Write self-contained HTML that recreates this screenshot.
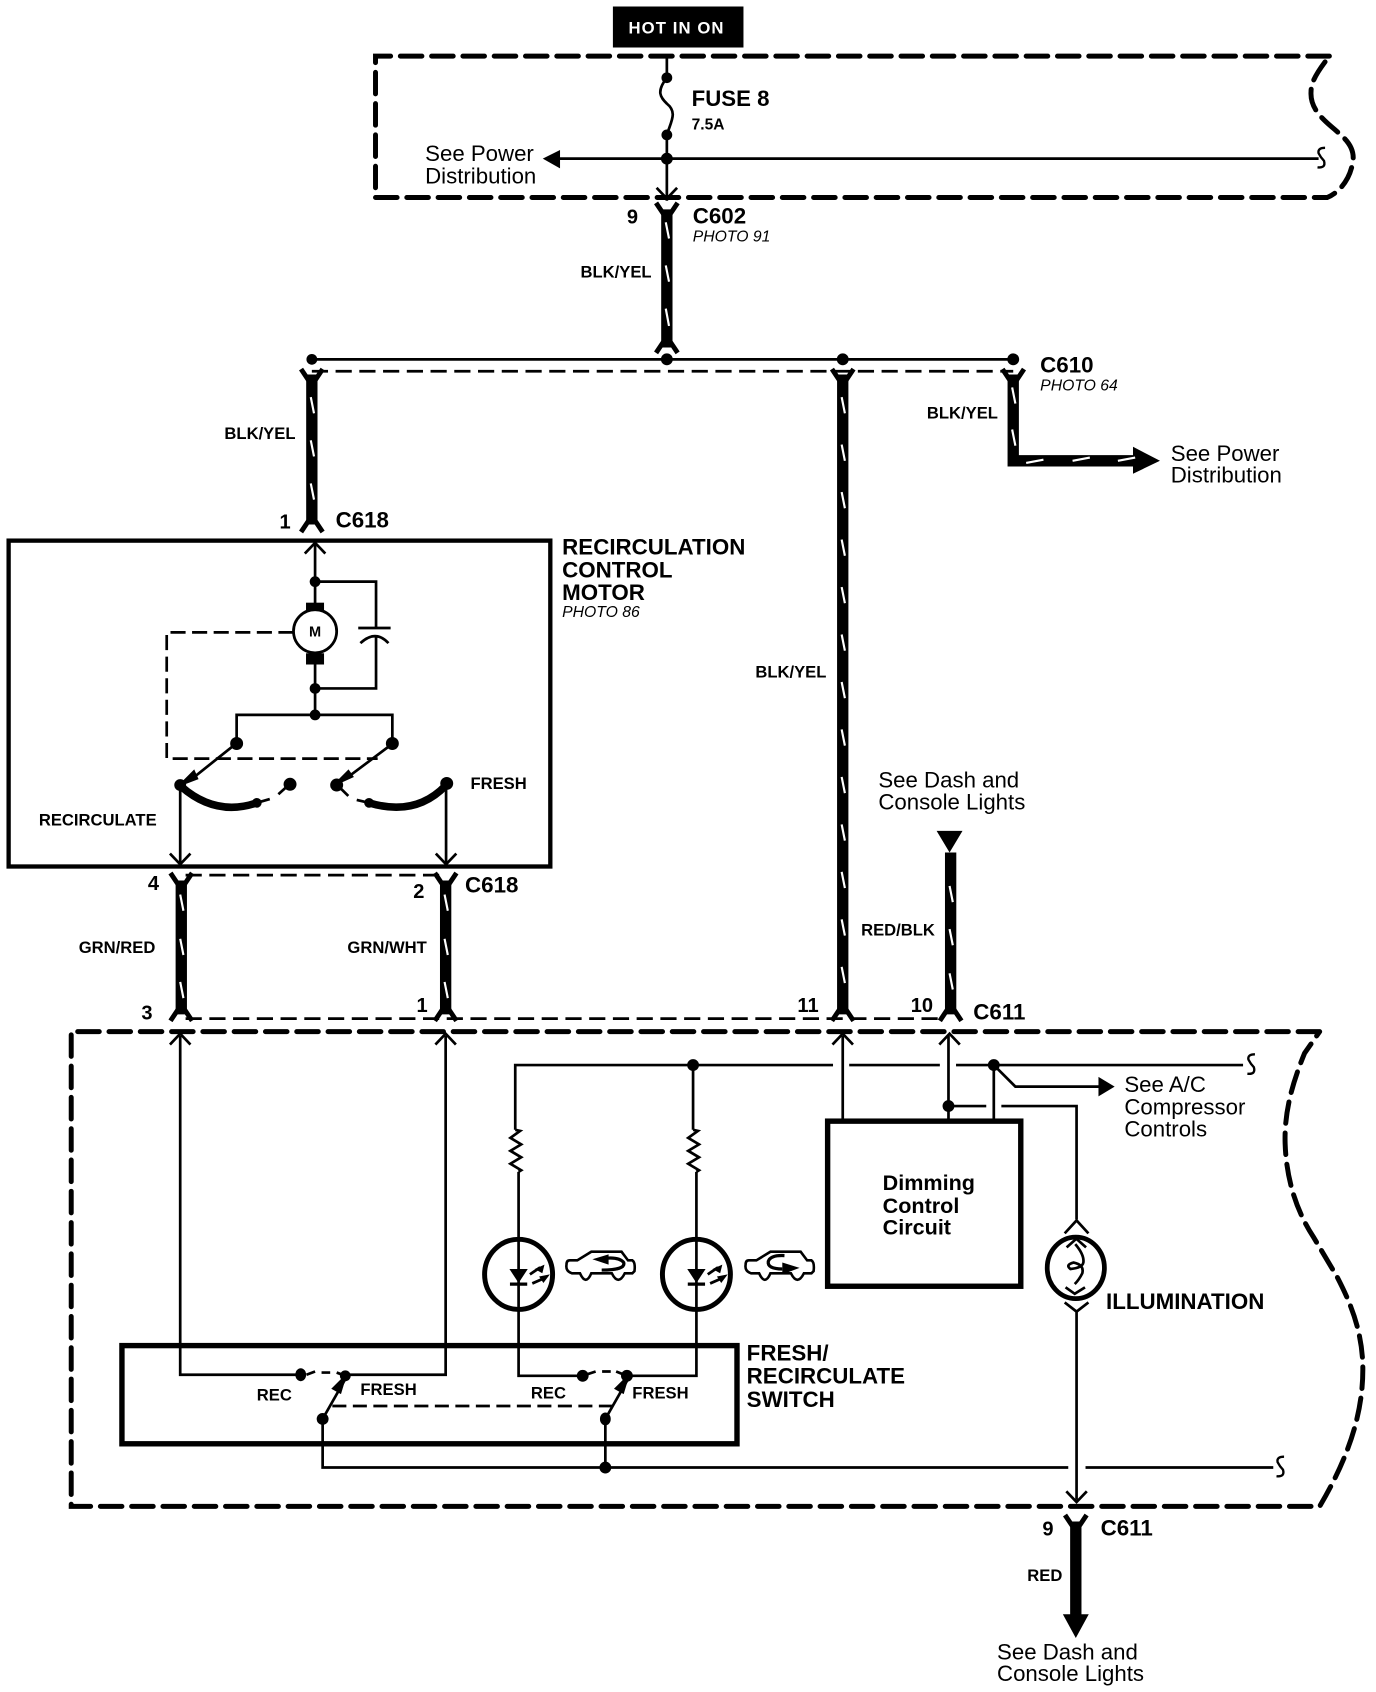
<!DOCTYPE html>
<html><head><meta charset="utf-8"><style>
html,body{margin:0;padding:0;background:#fff}
svg{display:block}
text{font-family:"Liberation Sans",sans-serif;fill:#000}
.b{font-weight:bold}
.h{font-weight:bold;font-size:20.7px}
.c{font-weight:bold;font-size:20.6px}
.l{font-weight:bold;font-size:15.4px}
.n{font-weight:bold;font-size:18.6px}
.r{font-size:20.6px}
.i{font-style:italic;font-size:14.6px}
.t{fill:none;stroke:#000;stroke-width:2.5}
.w{fill:none;stroke:#000;stroke-width:10.5}
.m{fill:none;stroke:#fff;stroke-width:2}
.d{fill:none;stroke:#000;stroke-width:4.6;stroke-dasharray:20 9;stroke-linecap:round}
.d2{fill:none;stroke:#000;stroke-width:2.5;stroke-dasharray:15 7}
</style></head><body>
<svg xmlns="http://www.w3.org/2000/svg" width="1376" height="1692" viewBox="0 0 1275.2 1568">
<rect width="1276" height="1568" fill="#fff"/>
<defs>
<path id="up" d="M-9.5,10 L0,0 L9.5,10" fill="none" stroke="#000" stroke-width="2.5"/>
<path id="dn" d="M-9.5,-10 L0,0 L9.5,-10" fill="none" stroke="#000" stroke-width="2.5"/>
<path id="ft" d="M-10,-5 L-2,7 M10,-5 L2,7" fill="none" stroke="#000" stroke-width="4.5"/>
<path id="fb" d="M-10,5 L-2,-7 M10,5 L2,-7" fill="none" stroke="#000" stroke-width="4.5"/>
<path id="sb" d="M3,-10 Q-4,-10 -3,-5 Q-1,-1 2,2 Q4,9 -4,8" fill="none" stroke="#000" stroke-width="2.2"/>
<g id="led">
<path d="M-8.5,-5 H8.5 L0,8 Z" fill="#000"/>
<path d="M-8,9 H8" stroke="#000" stroke-width="3"/>
<path d="M10.5,0 L20,-6.5 M12.7,8.4 L25,3" stroke="#000" stroke-width="2.6"/>
<path d="M24,-9 L22,-1 L15,-5 Z M29,0 L23,8 L19,2 Z" fill="#000"/>
</g>
</defs>

<!-- HOT -->
<rect x="568" y="6" width="121" height="38" fill="#000"/>
<text x="627" y="31" text-anchor="middle" class="b" style="font-size:15.5px;fill:#fff;letter-spacing:1px">HOT IN ON</text>

<!-- top fuse box -->
<path class="d" d="M1232,52 H348 V183 H1230 C1242,178 1252,165 1254,148 C1255,135 1246,128 1237,120 C1225,110 1214,100 1215,85 C1215,75 1222,65 1232,52"/>
<path class="t" d="M618,52 V72 M618,72 C608,85 612,90 618,96 C628,104 622,112 618,125 V186"/>
<circle cx="618" cy="72" r="5"/><circle cx="618" cy="125" r="5"/><circle cx="618" cy="147" r="5.5"/>
<path class="t" d="M515,147 H1222"/>
<path d="M503,147 L519,139 V156 Z"/>
<use href="#sb" x="1225" y="147"/>
<use href="#dn" x="618" y="184"/>
<text x="641" y="98" class="c">FUSE 8</text>
<text x="641" y="120" class="b" style="font-size:14.4px">7.5A</text>
<text x="394" y="149" class="r">See Power</text>
<text x="394" y="170" class="r">Distribution</text>

<!-- C602 -->
<path class="w" d="M618,194 V322"/>
<use href="#ft" x="618" y="193"/><use href="#fb" x="618" y="322"/>
<path class="m" d="M617,206 l3,15 M617,246 l3,15 M617,286 l3,16"/>
<text x="581" y="207" class="n">9</text>
<text x="642" y="207" class="h">C602</text>
<text x="642" y="224" class="i">PHOTO 91</text>
<text x="538" y="257" class="l">BLK/YEL</text>

<!-- bus -->
<path class="t" d="M289,333 H939"/>
<path class="d2" d="M289,344 H939"/>
<circle cx="289" cy="333" r="5"/><circle cx="618" cy="333" r="5.5"/><circle cx="781" cy="333" r="5.5"/><circle cx="939" cy="333" r="5.5"/>

<!-- drops -->
<path class="w" d="M289,347 V486"/>
<use href="#ft" x="289" y="347"/><use href="#fb" x="289" y="488"/>
<path class="m" d="M288,368 l3,15 M288,408 l3,15 M288,448 l3,15"/>
<path class="w" d="M781,347 V940"/>
<use href="#ft" x="781" y="347"/><use href="#fb" x="781" y="941"/>
<path class="m" d="M780,368 l3,15 M780,412 l3,15 M780,456 l3,15 M780,500 l3,15 M780,544 l3,15 M780,588 l3,15 M780,632 l3,15 M780,676 l3,15 M780,720 l3,15 M780,764 l3,15 M780,808 l3,15 M780,852 l3,15 M780,896 l3,15"/>
<path class="w" d="M939,347 V427 H1052"/>
<use href="#ft" x="939" y="347"/>
<path d="M1050,414 L1075,427 L1050,439 Z"/>
<path class="m" d="M938,359 l3,15 M938,398 l3,15 M951,429 l16,-3 M994,427 l16,-3 M1036,427 l16,-3"/>
<text x="208" y="407" class="l">BLK/YEL</text>
<text x="700" y="628" class="l">BLK/YEL</text>
<text x="859" y="388" class="l">BLK/YEL</text>
<text x="964" y="345" class="h">C610</text>
<text x="964" y="362" class="i">PHOTO 64</text>
<text x="1085" y="427" class="r">See Power</text>
<text x="1085" y="447" class="r">Distribution</text>
<text x="259" y="490" class="n">1</text>
<text x="311" y="489" class="h">C618</text>

<!-- motor box -->
<rect x="8" y="501" width="502" height="302" fill="none" stroke="#000" stroke-width="4"/>
<text x="521" y="514" class="h">RECIRCULATION</text>
<text x="521" y="535" class="h">CONTROL</text>
<text x="521" y="556" class="h">MOTOR</text>
<text x="521" y="572" class="i">PHOTO 86</text>
<path class="t" d="M292,504 V566"/>
<use href="#up" x="292" y="503"/>
<circle cx="292" cy="539" r="5"/>
<path class="t" d="M292,539 H348.5 V582 M332,582 H362 M348.5,590 V638 H292 M334,596 Q348,583 360,596"/>
<rect x="283.6" y="558.5" width="16.7" height="10"/><rect x="283.6" y="605.4" width="16.7" height="10.4"/>
<circle cx="292" cy="585" r="20" fill="#fff" stroke="#000" stroke-width="2.6"/>
<text x="292" y="590" text-anchor="middle" class="b" style="font-size:13.5px">M</text>
<path class="t" d="M292,612 V662.5 M219.3,689 V662.5 H363.6 V689"/>
<circle cx="292" cy="638" r="5"/><circle cx="292" cy="662.5" r="5"/>
<circle cx="219.3" cy="689" r="6"/><circle cx="363.6" cy="689" r="6"/>
<path class="d2" d="M272,586 H154.5 V703 H350" style="stroke-dasharray:14 6"/>
<path class="t" d="M219,689 L175,724 M364,689 L320,722"/>
<path d="M163,730 L180,713 L184,722 Z M306,730 L323,713 L328,720 Z"/>
<circle cx="167" cy="727.5" r="5.5"/><circle cx="268.8" cy="726.8" r="6"/><circle cx="312" cy="727.5" r="6"/><circle cx="414" cy="726" r="6"/>
<path fill="none" stroke="#000" stroke-width="7" d="M168,729 Q200,757 238,744 M413,728 Q385,757 342,744"/>
<circle cx="238" cy="744" r="4.5"/><circle cx="342" cy="744" r="4.5"/>
<path class="t" d="M238,744 L250,740.5 M258,736 L268,727 M342,744 L330.6,741.3 M322.8,737.6 L312,727"/>
<text x="436" y="731" class="l">FRESH</text>
<text x="36" y="765" class="l">RECIRCULATE</text>
<path class="t" d="M167,730 V801 M413.4,730 V801"/>
<use href="#dn" x="167" y="801"/><use href="#dn" x="413.4" y="801"/>

<!-- C618 lower -->
<path class="w" d="M168,816 V940 M413,816 V940"/>
<use href="#ft" x="168" y="814"/><use href="#ft" x="413" y="814"/>
<use href="#fb" x="168" y="941"/><use href="#fb" x="413" y="941"/>
<path class="m" d="M167,829 l3,15 M167,870 l3,15 M167,910 l3,15 M412,829 l3,15 M412,870 l3,15 M412,910 l3,15"/>
<path class="d2" d="M172,811 H408"/>
<path class="d2" d="M172,944 H876"/>
<text x="137" y="825" class="n">4</text>
<text x="383" y="832" class="n">2</text>
<text x="431" y="827" class="h">C618</text>
<text x="131" y="945" class="n">3</text>
<text x="386" y="938" class="n">1</text>
<text x="73" y="883" class="l">GRN/RED</text>
<text x="322" y="883" class="l">GRN/WHT</text>

<!-- RED/BLK -->
<text x="814" y="730" class="r">See Dash and</text>
<text x="814" y="750" class="r">Console Lights</text>
<path d="M868,770 H892 L880,790 Z"/>
<path class="w" d="M881,790 V940"/>
<use href="#fb" x="881" y="941"/>
<path class="m" d="M880,821 l3,15 M880,861 l3,15 M880,902 l3,15"/>
<text x="798" y="867" class="l">RED/BLK</text>
<text x="739" y="938" class="n">11</text>
<text x="844" y="938" class="n">10</text>
<text x="902" y="945" class="h">C611</text>

<!-- lower dashed box -->
<path class="d" d="M1223,956 H66 V1396 H1223 C1250,1350 1263,1310 1263,1269 C1263,1235 1252,1208 1239,1183 L1217,1146 C1200,1120 1192,1090 1191,1060 C1190,1030 1198,1003 1209,976 L1223,956"/>
<use href="#up" x="167" y="958"/><use href="#up" x="413" y="958"/><use href="#up" x="781" y="958"/><use href="#up" x="880" y="958"/>

<!-- switch box -->
<rect x="113" y="1247" width="570" height="91" fill="none" stroke="#000" stroke-width="5"/>
<text x="692" y="1261" class="h">FRESH/</text>
<text x="692" y="1282" class="h">RECIRCULATE</text>
<text x="692" y="1304" class="h">SWITCH</text>
<path class="t" d="M167,960 V1274 H280 M413,960 V1274 H320"/>
<ellipse cx="278.7" cy="1274" rx="5" ry="6"/>
<path class="t" d="M284,1274 L292,1271 M298,1272 H306 M312,1272 L320,1275"/>
<circle cx="320" cy="1275" r="5"/>
<path class="t" d="M299,1315 L320,1278"/>
<path d="M322,1272 L316,1292 L307,1287 Z"/>
<circle cx="299" cy="1315" r="5.5"/>
<text x="238" y="1298" class="l">REC</text>
<text x="334" y="1293" class="l">FRESH</text>

<path class="t" d="M480.6,1086 V1275 H540 M645.4,1086 V1275 H582"/>
<circle cx="540" cy="1275" r="5.5"/><circle cx="581" cy="1275" r="5.5"/>
<path class="t" d="M540,1275 L552,1271 M558,1271 H566 M571,1271 L581,1275"/>
<path class="t" d="M561,1315 L582,1278"/>
<path d="M584,1272 L578,1292 L569,1287 Z"/>
<ellipse cx="561" cy="1315" rx="5" ry="6"/>
<text x="492" y="1296" class="l">REC</text>
<text x="586" y="1296" class="l">FRESH</text>
<path class="d2" d="M308,1303 H568" style="stroke-dasharray:13 6"/>
<path class="t" d="M299,1315 V1360 H990 M1006,1360 H1180 M561,1315 V1360"/>
<circle cx="561" cy="1360" r="5.5"/>
<use href="#sb" x="1187" y="1360"/>

<!-- top feed -->
<path class="t" d="M477.5,1047 V987 H772 M787,987 H871 M886,987 H1152"/>
<use href="#sb" x="1160" y="987"/>
<circle cx="642.3" cy="987" r="5.5"/><circle cx="921" cy="987" r="5.5"/>
<path class="t" d="M642.3,987 V1047"/>
<path class="t" d="M477.5,1047 l4.5,1 l-9,6.5 l10,6 l-10,6 l10,6 l-10,6 l10,6 l-2.4,1.5"/>
<path class="t" d="M642.3,1047 l4.5,1 l-9,6.5 l10,6 l-10,6 l10,6 l-10,6 l10,6 l-2.4,1.5"/>

<!-- LEDs -->
<ellipse cx="480.6" cy="1181" rx="31.5" ry="32.5" fill="none" stroke="#000" stroke-width="4.6"/>
<ellipse cx="645.4" cy="1181" rx="31.5" ry="32.5" fill="none" stroke="#000" stroke-width="4.6"/>
<use href="#led" x="480.6" y="1181"/><use href="#led" x="645.4" y="1181"/>

<!-- Car icons -->
<g fill="none" stroke="#000" stroke-width="2.4">
<path d="M528,1168 L535,1168 L548,1160 H576 L582,1168 L586,1168 Q589,1170 588,1178 L586,1180 H579 Q573,1192 567,1180 H548 Q543,1192 537.5,1180 H530 Q524,1178 525,1172 Q525,1168 528,1168 Z"/>
<path d="M562,1166 Q574,1165 578,1170 Q580,1177 557.6,1177" stroke-width="3"/>
<path d="M694,1168 L701,1168 L714,1160 H742 L748,1168 L752,1168 Q755,1170 754,1178 L752,1180 H745 Q739,1192 733,1180 H714 Q709,1192 703.5,1180 H696 Q690,1178 691,1172 Q691,1168 694,1168 Z"/>
<path d="M727,1163.6 Q714,1163 712,1169 Q711,1176 725,1176" stroke-width="3"/>
</g>
<path d="M549,1167 L564,1162.5 V1172 Z M741,1175 L725,1170 V1181 Z"/>

<!-- dimming -->
<path class="t" d="M781,960 V1040 M879,960 V1040 M921,987 V1040"/>
<circle cx="879" cy="1025" r="5.5"/>
<path class="t" d="M879,1025 H914 M928,1025 H997.7 V1130"/>
<rect x="767" y="1039" width="179" height="153" fill="none" stroke="#000" stroke-width="5"/>
<text x="818" y="1103" class="b" style="font-size:20px">Dimming</text>
<text x="818" y="1124" class="b" style="font-size:20px">Control</text>
<text x="818" y="1144" class="b" style="font-size:20px">Circuit</text>
<path class="t" d="M921,987 L941,1007 H1020"/>
<path d="M1018,998 L1033,1007 L1018,1016 Z"/>
<text x="1042" y="1012" class="r">See A/C</text>
<text x="1042" y="1033" class="r">Compressor</text>
<text x="1042" y="1053" class="r">Controls</text>

<!-- illumination -->
<path fill="none" stroke="#000" stroke-width="2.5" d="M986.7,1143 L997.7,1131 L1008.7,1143 M986.7,1207 L997.7,1215.5 L1008.7,1207 M997.7,1215 V1390"/>
<ellipse cx="997" cy="1175" rx="26.5" ry="28.5" fill="none" stroke="#000" stroke-width="4.4"/>
<path class="t" d="M996.5,1153 Q1005,1163 1004,1170 Q1003,1175 992,1176 Q987,1172 995,1170 Q1005,1172 1003,1180 Q1000,1186 996,1190 M988.5,1156 L997.5,1148 L1006.5,1156 M987.5,1193 L996,1199 L1005.5,1193"/>
<text x="1025" y="1213" class="h">ILLUMINATION</text>
<use href="#dn" x="997.7" y="1392"/>

<!-- bottom -->
<path class="w" d="M997,1410 V1498"/>
<use href="#ft" x="997" y="1409"/>
<path d="M985,1496 H1009 L997,1518 Z"/>
<text x="966" y="1423" class="n">9</text>
<text x="1020" y="1423" class="h">C611</text>
<text x="952" y="1465" class="l">RED</text>
<text x="924" y="1538" class="r">See Dash and</text>
<text x="924" y="1558" class="r">Console Lights</text>
</svg>
</body></html>
